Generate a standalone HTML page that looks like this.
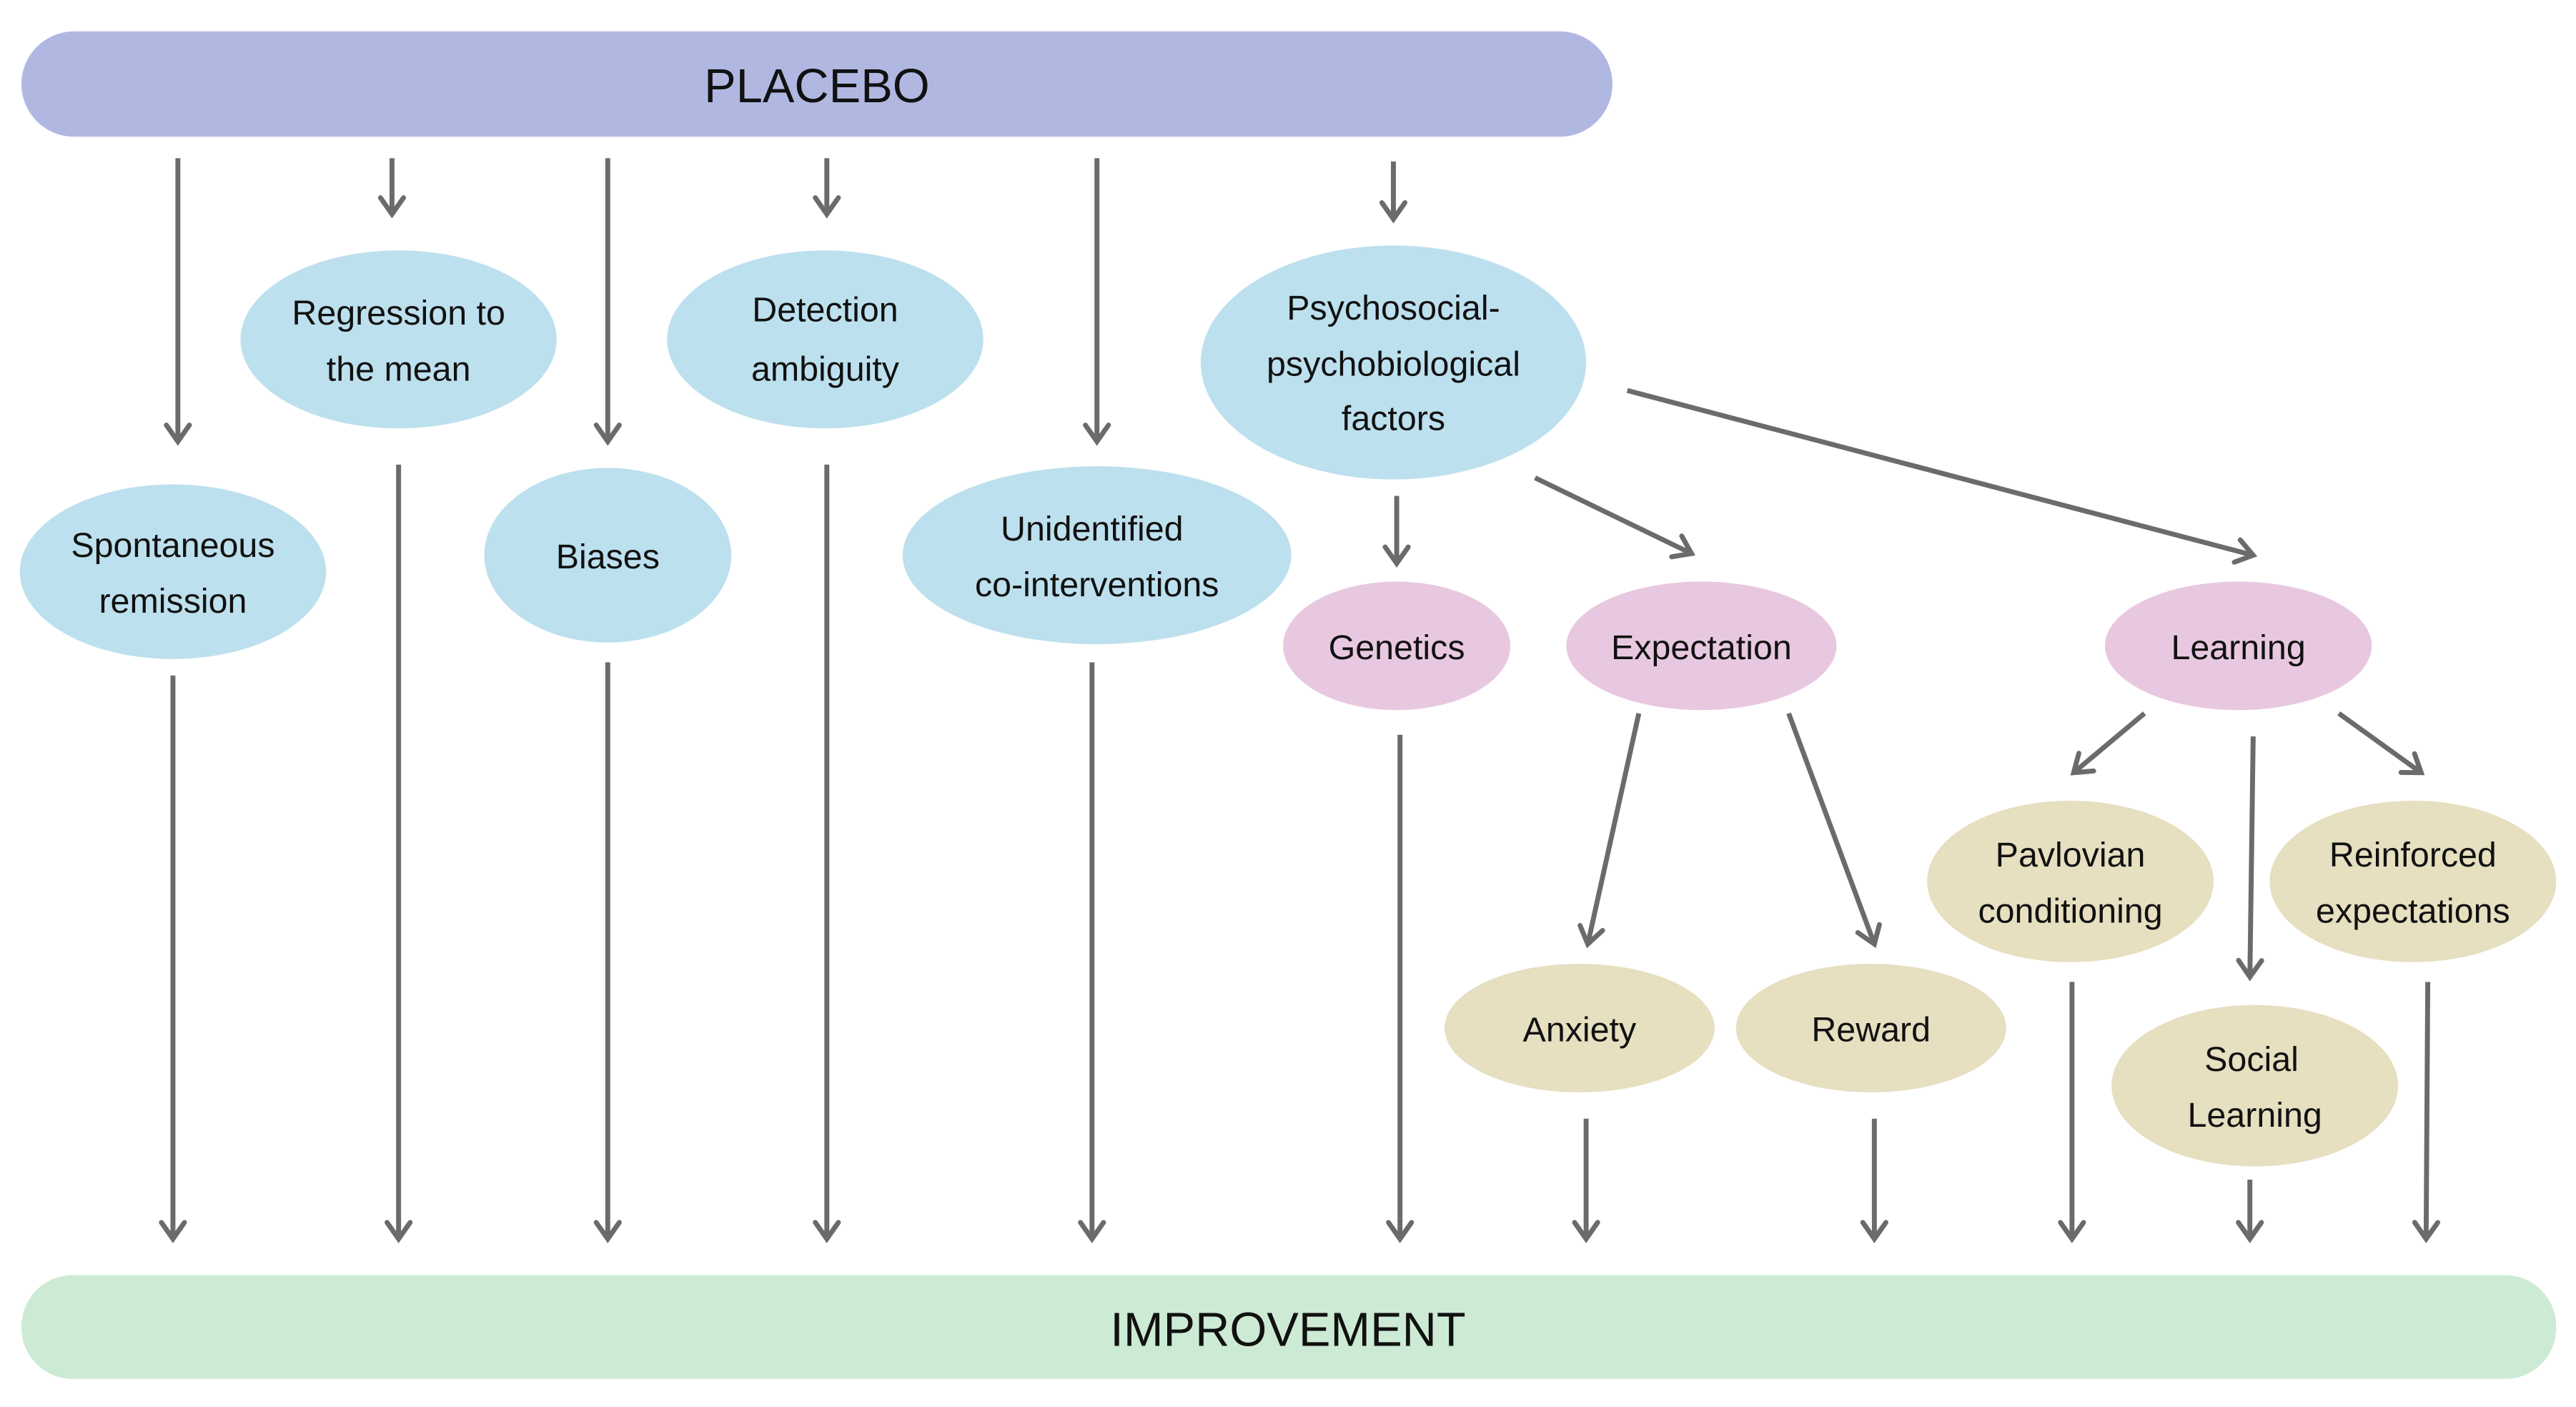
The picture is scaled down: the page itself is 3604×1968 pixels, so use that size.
<!DOCTYPE html>
<html><head><meta charset="utf-8"><style>html,body{margin:0;padding:0;background:#fff}svg{display:block}</style></head>
<body>
<svg width="3604" height="1968" viewBox="0 0 1564 854" xmlns="http://www.w3.org/2000/svg" font-family="Liberation Sans, DejaVu Sans, sans-serif">
<defs>
<marker id="a" markerUnits="userSpaceOnUse" markerWidth="20" markerHeight="20" refX="16" refY="10" orient="auto" viewBox="0 0 20 20">
<path d="M6,3 L16,10 L6,17" fill="none" stroke="#6b6b6b" stroke-width="3" stroke-linecap="round" stroke-linejoin="miter"/>
</marker>
</defs>
<rect x="13" y="19" width="966" height="64" rx="32" fill="#b0b8e2"/>
<text x="496" y="62" font-size="29" text-anchor="middle" fill="#111">PLACEBO</text>
<rect x="13" y="774" width="1539" height="63" rx="31" fill="#cdebd4"/>
<text x="782" y="817" font-size="29" text-anchor="middle" fill="#111">IMPROVEMENT</text>
<g stroke="#6b6b6b" stroke-width="3" marker-end="url(#a)" fill="none">
<line x1="108" y1="96" x2="108" y2="268"/>
<line x1="105" y1="410" x2="105" y2="752"/>
<line x1="238" y1="96" x2="238" y2="130"/>
<line x1="242" y1="282" x2="242" y2="752"/>
<line x1="369" y1="96" x2="369" y2="268"/>
<line x1="369" y1="402" x2="369" y2="752"/>
<line x1="502" y1="96" x2="502" y2="130"/>
<line x1="502" y1="282" x2="502" y2="752"/>
<line x1="666" y1="96" x2="666" y2="268"/>
<line x1="663" y1="402" x2="663" y2="752"/>
<line x1="846" y1="98" x2="846" y2="133"/>
<line x1="848" y1="301" x2="848" y2="342"/>
<line x1="850" y1="446" x2="850" y2="752"/>
<line x1="932" y1="290" x2="1027" y2="336"/>
<line x1="988" y1="237" x2="1368" y2="337"/>
<line x1="995" y1="433" x2="964" y2="573"/>
<line x1="1086" y1="433" x2="1138" y2="573"/>
<line x1="1302" y1="433" x2="1259" y2="469"/>
<line x1="1368" y1="447" x2="1366" y2="593"/>
<line x1="1420" y1="433" x2="1470" y2="469"/>
<line x1="963" y1="679" x2="963" y2="752"/>
<line x1="1138" y1="679" x2="1138" y2="752"/>
<line x1="1258" y1="596" x2="1258" y2="752"/>
<line x1="1366" y1="716" x2="1366" y2="752"/>
<line x1="1474" y1="596" x2="1473" y2="752"/>
</g>
<g fill="#bde0ee">
<ellipse cx="105" cy="347" rx="93" ry="53"/>
<ellipse cx="242" cy="206" rx="96" ry="54"/>
<ellipse cx="369" cy="337" rx="75" ry="53"/>
<ellipse cx="501" cy="206" rx="96" ry="54"/>
<ellipse cx="666" cy="337" rx="118" ry="54"/>
<ellipse cx="846" cy="220" rx="117" ry="71"/>
</g>
<g fill="#e8c8e0">
<ellipse cx="848" cy="392" rx="69" ry="39"/>
<ellipse cx="1033" cy="392" rx="82" ry="39"/>
<ellipse cx="1359" cy="392" rx="81" ry="39"/>
</g>
<g fill="#e6dfc0">
<ellipse cx="959" cy="624" rx="82" ry="39"/>
<ellipse cx="1136" cy="624" rx="82" ry="39"/>
<ellipse cx="1257" cy="535" rx="87" ry="49"/>
<ellipse cx="1465" cy="535" rx="87" ry="49"/>
<ellipse cx="1369" cy="659" rx="87" ry="49"/>
</g>
<g font-size="21" text-anchor="middle" fill="#111">
<text x="105" y="338">Spontaneous</text><text x="105" y="372">remission</text>
<text x="242" y="197">Regression to</text><text x="242" y="231">the mean</text>
<text x="369" y="345">Biases</text>
<text x="501" y="195">Detection</text><text x="501" y="231">ambiguity</text>
<text x="663" y="328">Unidentified</text><text x="666" y="362">co-interventions</text>
<text x="846" y="194">Psychosocial-</text><text x="846" y="228">psychobiological</text><text x="846" y="261">factors</text>
<text x="848" y="400">Genetics</text>
<text x="1033" y="400">Expectation</text>
<text x="1359" y="400">Learning</text>
<text x="959" y="632">Anxiety</text>
<text x="1136" y="632">Reward</text>
<text x="1257" y="526">Pavlovian</text><text x="1257" y="560">conditioning</text>
<text x="1465" y="526">Reinforced</text><text x="1465" y="560">expectations</text>
<text x="1367" y="650">Social</text><text x="1369" y="684">Learning</text>
</g>
</svg>
</body></html>
